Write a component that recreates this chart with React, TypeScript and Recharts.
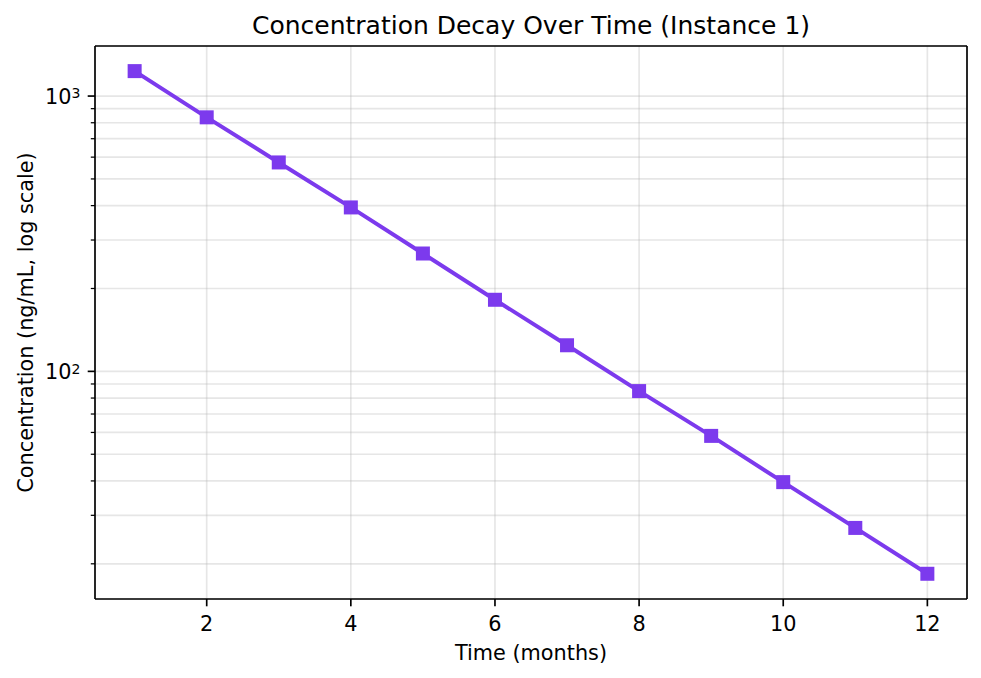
import React from 'react';
import { LineChart, Line, XAxis, YAxis, CartesianGrid, ReferenceLine } from 'recharts';

// ---- data ----
const months = [1, 2, 3, 4, 5, 6, 7, 8, 9, 10, 11, 12];
const concentration = [1232, 837, 574, 394, 268, 182, 124.4, 84.8, 58.3, 39.6, 27.0, 18.4];
const xTicks = [2, 4, 6, 8, 10, 12];
const yMajorTicks = [100, 1000];
const yMajorExponents = ['2', '3'];
const yMinorTicks = [20, 30, 40, 50, 60, 70, 80, 90, 200, 300, 400, 500, 600, 700, 800, 900];
const xDomain = [0.45, 12.55];
const yDomain = [14.9, 1520];

const TITLE = 'Concentration Decay Over Time (Instance 1)';
const X_LABEL = 'Time (months)';
const Y_LABEL = 'Concentration (ng/mL, log scale)';

const data = months.map((t, i) => ({ t, c: concentration[i] }));
const yTicks = [...yMinorTicks, ...yMajorTicks].sort((a, b) => a - b);

const FONT = '"DejaVu Sans", Verdana, sans-serif';
const COLOR = '#7c3aed';
const W = 981;
const H = 678;
const M = { top: 46, right: 14, bottom: 0, left: 0 };
const Y_AXIS_W = 95;
const X_AXIS_H = 79;

const YTick = (props: any) => {
  const { x, y, payload } = props;
  const v = payload.value;
  const idx = yMajorTicks.indexOf(v);
  if (idx >= 0) {
    return (
      <g>
        <line x1={x - 7.3} x2={x} y1={y} y2={y} stroke="#000" strokeWidth={1.67} />
        <text x={x - 14.6} y={y + 8} textAnchor="end" fontFamily={FONT} fontSize={20.8} fill="#000">
          <tspan>10</tspan>
          <tspan dy={-5.8} fontSize={14}>{yMajorExponents[idx]}</tspan>
        </text>
      </g>
    );
  }
  return <line x1={x - 4.2} x2={x} y1={y} y2={y} stroke="#000" strokeWidth={1.25} />;
};

const XTick = (props: any) => {
  const { x, y, payload } = props;
  return (
    <g>
      <line x1={x} x2={x} y1={y} y2={y + 7.3} stroke="#000" strokeWidth={1.67} />
      <text x={x} y={y + 32} textAnchor="middle" fontFamily={FONT} fontSize={20.8} fill="#000">
        {payload.value}
      </text>
    </g>
  );
};

const SquareDot = (props: any) => {
  const { cx, cy, index } = props;
  if (cx == null || cy == null) return <g key={`d-${index}`} />;
  return <rect key={`d-${index}`} x={cx - 7} y={cy - 7} width={14} height={14} fill={COLOR} />;
};

export default function App() {
  const plotLeft = M.left + Y_AXIS_W;
  const plotRight = W - M.right;
  const plotTop = M.top;
  const plotBottom = H - M.bottom - X_AXIS_H;
  const cx = (plotLeft + plotRight) / 2;
  const cy = (plotTop + plotBottom) / 2;
  return (
    <div style={{ position: 'absolute', left: 0, top: 0, width: W, height: H, background: '#fff' }}>
      <LineChart width={W} height={H} data={data} margin={M}>
        <CartesianGrid stroke="#b0b0b0" strokeOpacity={0.32} strokeWidth={1.67} />
        <XAxis
          dataKey="t"
          type="number"
          domain={xDomain}
          ticks={xTicks}
          interval={0}
          height={X_AXIS_H}
          tickSize={0}
          tickMargin={0}
          tickLine={false}
          axisLine={{ stroke: '#000', strokeWidth: 1.67 }}
          tick={<XTick />}
          allowDataOverflow
        />
        <YAxis
          type="number"
          scale="log"
          domain={yDomain}
          ticks={yTicks}
          interval={0}
          width={Y_AXIS_W}
          tickSize={0}
          tickMargin={0}
          tickLine={false}
          axisLine={{ stroke: '#000', strokeWidth: 1.67 }}
          tick={<YTick />}
          allowDataOverflow
        />
        <ReferenceLine y={yDomain[1]} stroke="#000" strokeWidth={1.67} ifOverflow="visible" />
        <ReferenceLine x={xDomain[1]} stroke="#000" strokeWidth={1.67} ifOverflow="visible" />
        <Line
          type="linear"
          dataKey="c"
          stroke={COLOR}
          strokeWidth={4}
          dot={SquareDot}
          activeDot={false}
          isAnimationActive={false}
        />
      </LineChart>
      <svg
        width={W}
        height={H}
        style={{ position: 'absolute', left: 0, top: 0, pointerEvents: 'none' }}
      >
        <text x={cx} y={33.5} textAnchor="middle" fontFamily={FONT} fontSize={25} fill="#000">
          {TITLE}
        </text>
        <text x={cx} y={660} textAnchor="middle" fontFamily={FONT} fontSize={20.8} fill="#000">
          {X_LABEL}
        </text>
        <text
          x={0}
          y={0}
          transform={`translate(33,${cy}) rotate(-90)`}
          textAnchor="middle"
          fontFamily={FONT}
          fontSize={20.8}
          fill="#000"
        >
          {Y_LABEL}
        </text>
      </svg>
    </div>
  );
}
